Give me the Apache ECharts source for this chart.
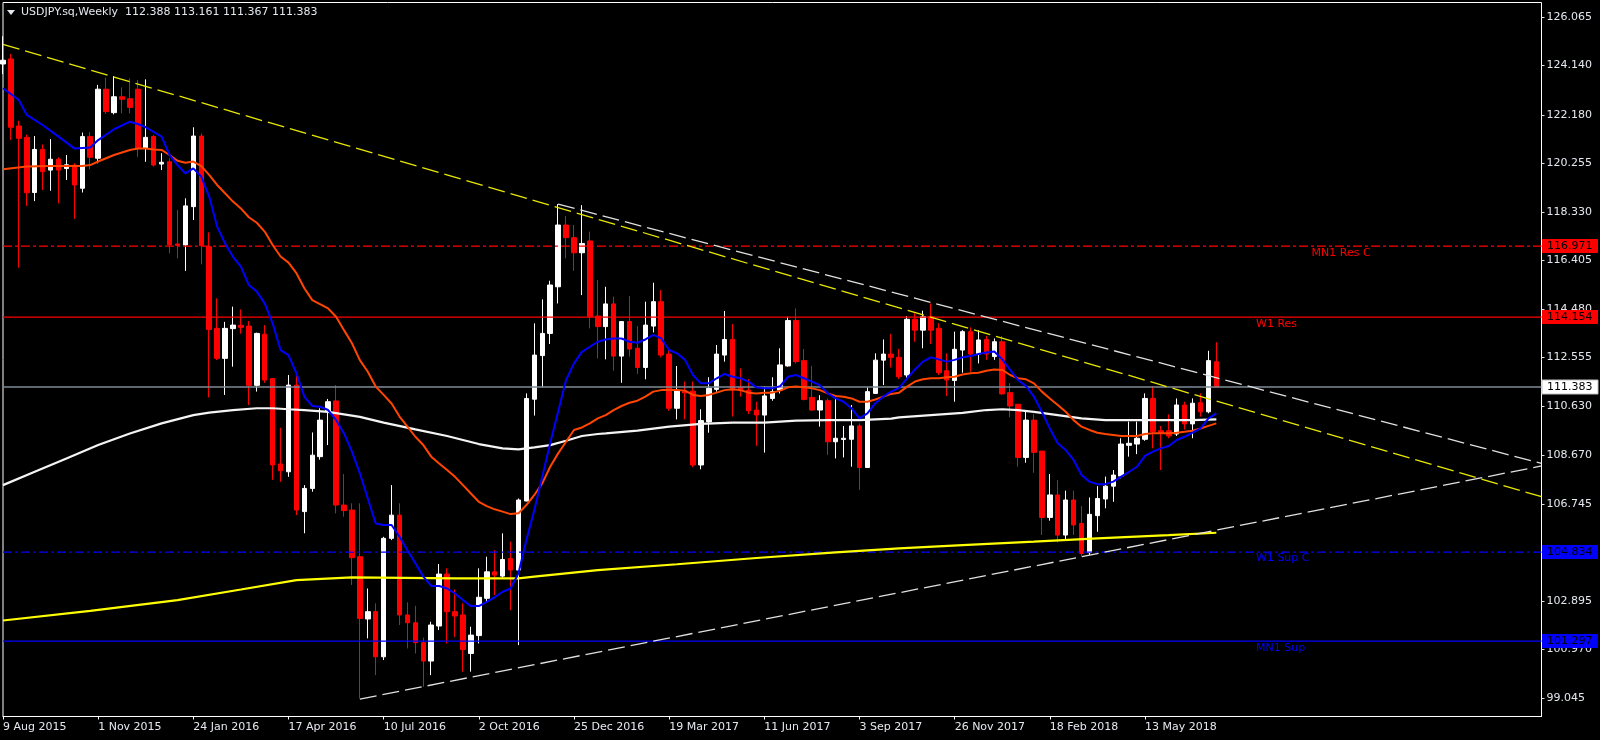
<!DOCTYPE html>
<html><head><meta charset="utf-8">
<script src="https://cdn.jsdelivr.net/npm/echarts@6/dist/echarts.min.js"></script>
<style>html,body{margin:0;padding:0;background:#000;}#c{width:1600px;height:740px;}</style>
</head><body><div id="c"></div>
<script>
// ---------- data ----------
const symbolTitle = 'USDJPY.sq,Weekly  112.388 113.161 111.367 111.383';
const firstWeek = [2015, 7, 9]; // 9 Aug 2015 (weekly bars)
const slotCount = 195;          // bars + empty right shift
const labelEvery = 12;

const open = [124.20,124.40,121.74,121.29,119.10,120.81,119.99,120.42,120.05,120.19,119.27,121.32,120.46,123.20,122.27,122.90,122.82,123.20,120.85,121.32,120.23,120.32,117.06,117.02,118.54,121.34,116.95,113.71,112.52,113.70,113.83,113.80,111.45,113.48,111.72,108.33,108.02,111.46,106.44,107.36,108.62,110.40,110.83,106.70,106.50,104.65,102.18,102.47,100.68,105.38,106.30,102.34,102.03,101.24,100.51,101.90,103.96,102.47,102.34,100.81,101.52,103.00,104.05,103.88,104.58,104.12,106.86,110.90,112.63,113.51,115.36,117.81,117.31,116.71,117.18,114.20,113.78,114.68,112.61,113.98,112.92,112.16,113.80,114.77,112.69,110.54,111.20,111.22,108.29,110.00,111.29,112.65,113.27,111.37,111.26,110.47,110.27,110.93,111.26,112.22,114.02,112.43,110.97,110.47,110.84,109.21,109.30,109.31,109.84,108.19,111.13,112.45,112.69,112.56,111.86,114.07,113.64,114.17,113.71,112.03,111.64,112.85,113.58,112.69,113.27,112.59,113.18,111.16,110.70,108.59,110.07,108.84,106.21,107.10,105.51,106.90,105.97,104.81,106.28,106.94,107.45,107.85,109.07,109.12,109.31,110.93,109.65,109.65,109.52,110.67,109.92,110.76,110.40,112.388];
const high = [125.30,124.60,121.95,121.40,121.34,121.01,121.22,120.50,120.59,120.26,121.48,121.49,123.37,123.66,123.72,123.27,123.63,123.57,123.59,121.38,120.66,120.46,118.41,118.87,121.69,121.45,117.52,114.90,113.97,114.57,114.46,114.00,113.54,113.84,111.72,109.77,111.86,111.90,107.49,109.58,110.54,110.91,111.46,107.93,106.77,106.77,103.39,102.80,105.44,107.49,106.77,102.84,102.70,101.44,102.07,104.36,104.19,103.35,102.80,101.87,104.19,104.65,104.91,105.58,105.25,106.96,111.13,113.91,114.86,115.60,118.64,118.17,117.81,118.60,117.55,115.63,115.36,114.97,114.00,114.99,113.80,114.77,115.52,115.23,112.88,112.22,111.60,111.60,110.50,111.77,113.05,114.40,113.88,112.12,111.70,110.80,111.40,111.77,112.92,114.17,114.50,112.89,112.22,111.06,110.93,110.97,109.84,110.67,109.94,111.37,112.72,113.27,113.49,112.90,114.20,114.31,114.41,114.70,113.91,112.72,113.58,113.64,113.75,113.64,113.41,113.31,113.41,111.53,110.70,110.40,110.31,108.84,107.93,107.69,107.27,107.27,106.66,107.00,107.45,107.83,108.09,109.35,110.01,110.01,111.13,111.42,109.84,110.30,110.93,110.80,110.93,111.13,112.82,113.161];
const low = [123.80,121.19,116.12,118.57,118.76,119.20,119.17,118.67,119.60,118.05,119.10,120.02,120.26,122.22,122.20,122.24,122.24,120.52,120.32,120.13,119.99,116.69,116.49,115.99,118.01,116.25,110.97,112.45,111.07,112.19,113.50,110.67,111.20,111.55,107.70,107.62,107.82,106.30,105.58,107.23,108.50,109.08,106.37,106.24,103.53,99.03,101.41,99.95,100.55,105.31,101.94,101.01,100.81,99.49,99.95,101.74,101.21,101.47,100.09,100.09,101.21,102.84,103.13,103.79,102.53,101.14,106.85,110.25,111.37,113.09,114.70,116.49,115.99,115.03,113.71,112.52,112.48,112.03,111.55,112.59,111.90,111.69,113.55,112.56,110.44,110.10,110.10,108.20,108.12,109.57,111.20,112.39,110.21,111.00,110.31,109.05,108.78,110.84,111.13,112.19,112.32,110.85,110.43,109.81,108.69,108.55,108.59,108.22,107.30,108.19,111.11,111.46,112.16,111.70,111.70,113.18,112.92,113.09,111.86,111.03,110.80,111.95,111.99,112.32,112.46,112.46,111.07,110.18,108.22,108.38,107.98,105.51,106.08,105.22,105.29,105.51,104.65,104.72,105.64,106.57,106.83,107.76,108.62,108.72,109.25,108.95,108.09,109.35,109.44,109.70,109.35,110.21,110.34,111.367];
const close = [124.35,121.69,121.25,119.09,120.81,119.93,120.42,119.99,120.20,119.40,121.32,120.50,123.20,122.31,122.90,122.80,122.48,120.85,121.29,120.19,120.30,117.02,117.00,118.57,121.34,116.99,113.67,112.52,113.71,113.84,113.75,111.45,113.51,111.66,108.29,108.06,111.46,106.50,107.36,108.68,110.07,110.80,106.70,106.48,104.61,102.20,102.47,100.68,105.38,106.30,102.34,102.03,101.24,100.51,101.94,103.96,102.47,102.30,100.97,101.54,103.04,104.05,103.92,104.54,104.12,106.90,110.93,112.65,113.51,115.43,117.81,117.31,116.71,117.08,114.17,113.78,114.68,112.61,113.98,112.89,112.16,113.84,114.77,112.65,110.54,111.24,111.15,108.29,110.05,111.33,112.69,113.27,111.26,111.24,110.44,110.27,111.03,111.20,112.26,114.02,112.39,110.89,110.47,110.84,109.21,109.35,109.35,109.84,108.19,111.20,112.45,112.69,112.56,111.79,114.07,113.64,114.17,113.64,111.95,111.66,112.88,113.58,112.69,113.25,112.69,113.18,111.11,110.63,108.59,110.07,108.79,106.21,107.10,105.51,106.90,105.91,104.78,106.33,106.96,107.45,107.89,109.12,109.15,109.35,110.93,109.61,109.57,109.44,110.67,109.92,110.74,110.40,112.43,111.383];

const yTicks = [126.065,124.140,122.180,120.255,118.330,116.405,114.480,112.555,110.630,108.670,106.745,104.820,102.895,100.970,99.045];

// moving averages: [bar index, price]
const maBlue = [[0,123.24],[2,122.77],[3,122.18],[5,121.78],[7,121.32],[9,120.85],[11,120.89],[12,121.18],[14,121.61],[16,121.91],[17,121.82],[18,121.69],[20,121.32],[21,120.59],[22,120.19],[23,119.86],[24,120.06],[25,119.73],[26,118.94],[27,117.75],[28,117.08],[29,116.55],[30,116.16],[31,115.43],[32,115.17],[33,114.70],[34,113.91],[35,112.85],[36,112.65],[37,111.93],[38,111.0],[39,110.63],[40,110.6],[41,110.47],[42,110.07],[43,109.54],[44,108.82],[45,107.96],[46,106.96],[47,105.97],[48,105.91],[49,105.91],[50,105.44],[51,104.91],[52,104.39],[53,103.86],[54,103.49],[55,103.49],[56,103.39],[57,103.19],[58,102.93],[59,102.69],[60,102.69],[61,102.86],[62,103.04],[63,103.26],[64,103.39],[65,103.99],[66,105.31],[67,106.5],[68,107.82],[69,109.15],[70,110.4],[71,111.66],[72,112.32],[73,112.78],[74,112.98],[75,113.18],[76,113.27],[77,113.31],[78,113.31],[79,113.18],[80,113.14],[81,113.27],[82,113.45],[83,113.31],[84,112.85],[85,112.72],[86,112.46],[87,111.86],[88,111.53],[89,111.53],[90,111.73],[91,111.9],[92,111.79],[93,111.73],[94,111.6],[95,111.37],[96,111.33],[97,111.33],[98,111.42],[99,111.79],[100,111.86],[101,111.73],[102,111.6],[103,111.46],[104,111.13],[105,110.93],[106,110.8],[107,110.54],[108,110.14],[109,110.34],[110,110.74],[111,111.0],[112,111.2],[113,111.35],[114,111.73],[115,112.08],[116,112.39],[117,112.56],[118,112.48],[119,112.39],[120,112.46],[121,112.56],[122,112.61],[123,112.69],[124,112.75],[125,112.79],[126,112.48],[127,112.06],[128,111.66],[129,111.42],[130,111.0],[131,110.4],[132,109.74],[133,109.15],[134,108.88],[135,108.49],[136,107.89],[137,107.63],[138,107.53],[139,107.53],[140,107.63],[141,107.83],[142,108.02],[143,108.22],[144,108.65],[145,108.82],[146,108.95],[147,109.04],[148,109.28],[149,109.41],[150,109.57],[151,109.74],[152,110.14],[153,110.34]];
const maOrange = [[0,120.02],[3,120.13],[6,120.15],[10,120.15],[11,120.19],[12,120.33],[14,120.59],[16,120.79],[17,120.85],[18,120.85],[19,120.81],[20,120.79],[21,120.59],[22,120.36],[23,120.28],[24,120.33],[25,120.15],[26,119.8],[27,119.4],[28,119.07],[29,118.74],[30,118.47],[31,118.12],[32,117.9],[33,117.55],[34,117.02],[35,116.56],[36,116.32],[37,115.9],[38,115.3],[39,114.83],[41,114.5],[42,114.17],[43,113.64],[44,113.12],[45,112.45],[46,111.99],[47,111.4],[48,111.07],[49,110.73],[50,110.21],[51,109.81],[52,109.41],[53,109.08],[54,108.62],[55,108.35],[56,108.09],[57,107.82],[58,107.49],[59,107.16],[60,106.83],[61,106.66],[62,106.53],[63,106.44],[64,106.34],[65,106.37],[66,106.7],[67,107.1],[68,107.56],[69,108.22],[70,108.75],[71,109.21],[72,109.68],[73,109.78],[74,109.94],[75,110.14],[76,110.27],[77,110.47],[78,110.63],[79,110.76],[80,110.84],[81,111.0],[82,111.2],[83,111.26],[84,111.26],[85,111.26],[86,111.24],[87,111.07],[88,111.03],[89,111.07],[90,111.16],[91,111.26],[92,111.29],[93,111.26],[94,111.16],[95,111.13],[96,111.16],[97,111.16],[98,111.24],[99,111.37],[100,111.4],[101,111.37],[102,111.33],[103,111.26],[104,111.13],[105,111.03],[106,111.0],[107,110.93],[108,110.8],[109,110.8],[110,110.89],[111,111.0],[112,111.11],[113,111.16],[114,111.4],[115,111.6],[116,111.69],[117,111.73],[118,111.73],[119,111.77],[120,111.79],[121,111.88],[122,111.93],[123,111.95],[124,112.03],[125,112.08],[126,112.06],[127,111.86],[128,111.73],[129,111.69],[130,111.53],[131,111.2],[132,110.93],[133,110.67],[134,110.4],[135,110.07],[136,109.81],[137,109.68],[138,109.57],[139,109.52],[140,109.48],[141,109.44],[142,109.44],[143,109.44],[144,109.52],[145,109.55],[146,109.55],[147,109.55],[148,109.57],[149,109.61],[150,109.65],[151,109.74],[152,109.84],[153,109.94]];
const maWhite = [[0,107.49],[4,108.02],[8,108.55],[12,109.08],[16,109.54],[20,109.94],[24,110.27],[26,110.37],[29,110.47],[32,110.54],[34,110.54],[36,110.5],[38,110.47],[41,110.4],[45,110.2],[48,109.97],[52,109.7],[56,109.44],[60,109.12],[63,108.95],[65,108.91],[67,108.99],[69,109.08],[71,109.25],[73,109.44],[75,109.52],[76,109.54],[80,109.65],[84,109.81],[88,109.92],[92,109.97],[96,109.97],[100,110.05],[104,110.07],[108,110.07],[112,110.13],[113,110.18],[117,110.27],[121,110.36],[124,110.47],[126,110.5],[128,110.47],[130,110.4],[133,110.27],[136,110.14],[139,110.07],[143,110.07],[147,110.07],[150,110.07],[153,110.1]];
const maYellow = [[0,102.12],[11,102.5],[22,102.93],[30,103.35],[37,103.72],[44,103.83],[57,103.79],[65,103.79],[67,103.86],[71,103.99],[75,104.12],[85,104.35],[95,104.6],[105,104.82],[113,104.98],[121,105.11],[130,105.25],[138,105.38],[147,105.51],[153,105.6]];

// trend lines: [bar index, price] end points
const trendYellow = [[0,124.98],[194,107.03]];
const trendWhiteUpper = [[70,118.64],[194,108.35]];
const trendWhiteLower = [[45,99.0],[194,108.25]];

// horizontal levels
const levelValues = [116.971, 114.154, 111.383, 104.834, 101.297];
const levelNames  = ['MN1 Res C', 'W1 Res', '', 'W1 Sup C', 'MN1 Sup'];
const levelColors = ['#ff0000', '#ff0000', '#7f8a96', '#0000ff', '#0000ff'];
const levelDash   = [[9,3,3,3], 'solid', 'solid', [9,3,3,3], 'solid'];
const levelBoxBg  = ['#ff0000', '#ff0000', '#ffffff', '#0000ff', '#0000ff'];
const levelTextAt = [165, 158, 0, 158.2, 157.7]; // bar index where the name text starts

// ---------- chart ----------
const MONTHS = ['Jan','Feb','Mar','Apr','May','Jun','Jul','Aug','Sep','Oct','Nov','Dec'];
const categories = [];
const t0 = Date.UTC(firstWeek[0], firstWeek[1], firstWeek[2]);
for (let i = 0; i < slotCount; i++) {
  const d = new Date(t0 + i * 7 * 86400000);
  categories.push(d.getUTCDate() + ' ' + MONTHS[d.getUTCMonth()] + ' ' + d.getUTCFullYear());
}
const lastBar = open.length - 1;
const showLabel = (i) => i % labelEvery === 0 && i <= lastBar;
const candles = open.map((o, i) => [o, close[i], low[i], high[i]]);
const FONT = 'DejaVu Sans';
const lastIdx = slotCount - 1;

const series = [
  { type: 'candlestick', data: candles, barWidth: 5, z: 2,
    itemStyle: { color: '#ffffff', color0: '#ff0000', borderColor: '#ffffff', borderColor0: '#ff0000', borderWidth: 1 } }
];
levelValues.forEach((v, k) => {
  series.push({ type: 'line', data: [[0, v], [lastIdx, v]], symbol: 'none', silent: true, z: 3,
    lineStyle: { color: levelColors[k], width: 1.3, type: levelDash[k] } });
});
const lineSer = (data, color, width, type, z) => ({ type: 'line', data, symbol: 'none', silent: true, z,
  lineStyle: { color, width, type }, animation: false });
series.push(lineSer(maYellow, '#ffff00', 2.2, 'solid', 4));
series.push(lineSer(maWhite, '#f4f4f4', 2.2, 'solid', 4));
series.push(lineSer(maOrange, '#ff4500', 2, 'solid', 5));
series.push(lineSer(maBlue, '#0000ff', 2, 'solid', 6));
series.push(lineSer(trendYellow, '#e8e800', 1.3, [17, 6], 7));
series.push(lineSer(trendWhiteUpper, '#e0e0e0', 1.3, [17, 6], 7));
series.push(lineSer(trendWhiteLower, '#e0e0e0', 1.3, [17, 6], 7));

const chart = echarts.init(document.getElementById('c'), null, { renderer: 'canvas' });
chart.setOption({
  animation: false,
  backgroundColor: '#000000',
  grid: { left: 3, right: 58.5, top: 2.5, bottom: 23.5, show: true, borderColor: '#ffffff', borderWidth: 1, backgroundColor: 'transparent' },
  xAxis: {
    type: 'category', data: categories, boundaryGap: false,
    axisLine: { show: true, lineStyle: { color: '#ffffff' } },
    axisTick: { show: true, interval: (i) => showLabel(i), length: 3, lineStyle: { color: '#ffffff' } },
    axisLabel: { interval: (i) => showLabel(i), align: 'left', color: '#e4e8ee', fontFamily: FONT, fontSize: 11, margin: 5 },
    splitLine: { show: false }
  },
  yAxis: {
    type: 'value', position: 'right', min: 98.31, max: 126.64, scale: true,
    splitLine: { show: false }, axisLine: { show: false },
    axisTick: { show: true, customValues: yTicks, length: 3, lineStyle: { color: '#e0e0e0' } },
    axisLabel: { customValues: yTicks, formatter: (v) => Number(v).toFixed(3), color: '#e4e8ee', fontFamily: FONT, fontSize: 11, margin: 5 }
  },
  series
});

// overlays placed through the chart's own scales
function drawOverlays() {
  const px = (i, v) => chart.convertToPixel({ xAxisIndex: 0, yAxisIndex: 0 }, [i, v]);
  const g = [];
  // title
  g.push({ type: 'polygon', shape: { points: [[7, 10], [15, 10], [11, 15]] }, style: { fill: '#e4e8ee' }, z: 20 });
  g.push({ type: 'text', x: 21, y: 12.5, style: { text: symbolTitle, fill: '#e4e8ee', font: '11px "DejaVu Sans"', verticalAlign: 'middle' }, z: 20 });
  levelValues.forEach((v, k) => {
    const p = px(0, v);
    const y = p[1];
    if (levelNames[k]) {
      const q = px(levelTextAt[k], v);
      g.push({ type: 'text', x: q[0], y: y + 1, style: { text: levelNames[k], fill: levelColors[k], font: '11px "DejaVu Sans"', verticalAlign: 'top' }, z: 20 });
    }
    g.push({ type: 'rect', shape: { x: 1542, y: Math.round(y) - 7, width: 56, height: 14 }, style: { fill: levelBoxBg[k], stroke: k === 2 ? '#c0c0c0' : null, lineWidth: 1 }, z: 30 });
    g.push({ type: 'text', x: 1547, y: Math.round(y), style: { text: v.toFixed(3), fill: '#000000', font: '11px "DejaVu Sans"', verticalAlign: 'middle' }, z: 31 });
  });
  chart.setOption({ graphic: g });
}
drawOverlays();
</script>
</body></html>
